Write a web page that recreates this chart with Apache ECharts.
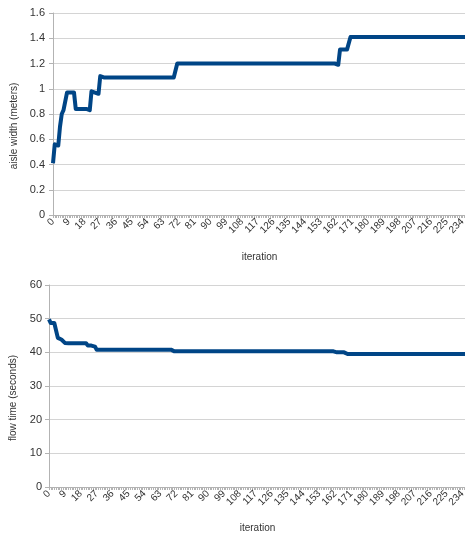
<!DOCTYPE html>
<html>
<head>
<meta charset="utf-8">
<script src="https://cdn.jsdelivr.net/npm/echarts@6/dist/echarts.min.js"></script>
<style>
  html, body { margin: 0; padding: 0; background: #fff; }
  #chart { width: 465px; height: 533px; }
</style>
</head>
<body>
<div id="chart"></div>
<script>
// Iteration index 0..236
const iterations = [];
for (let i = 0; i <= 236; i++) iterations.push(String(i));

// Aisle width per iteration (meters)
const aisleWidth = [
  0.41, 0.56, 0.55, 0.55, 0.70, 0.80, 0.83, 0.84, 0.97, 0.97,
  0.97, 0.96, 0.97, 0.84, 0.84, 0.84, 0.84, 0.84, 0.84, 0.84,
  0.84, 0.83, 0.98, 0.97, 0.97, 0.97, 0.96, 1.10, 1.09, 1.09,
  1.09, 1.09, 1.09, 1.09, 1.09, 1.09, 1.09, 1.09, 1.09, 1.09,
  1.09, 1.09, 1.09, 1.09, 1.09, 1.09, 1.09, 1.09, 1.09, 1.09,
  1.09, 1.09, 1.09, 1.09, 1.09, 1.09, 1.09, 1.09, 1.09, 1.09,
  1.09, 1.09, 1.09, 1.09, 1.09, 1.09, 1.09, 1.09, 1.09, 1.09,
  1.08, 1.20, 1.21, 1.20, 1.20, 1.20, 1.20, 1.20, 1.20, 1.20,
  1.20, 1.20, 1.20, 1.20, 1.20, 1.20, 1.20, 1.20, 1.20, 1.20,
  1.20, 1.20, 1.20, 1.20, 1.20, 1.20, 1.20, 1.20, 1.20, 1.20,
  1.20, 1.20, 1.20, 1.20, 1.20, 1.20, 1.20, 1.20, 1.20, 1.20,
  1.20, 1.20, 1.20, 1.20, 1.20, 1.20, 1.20, 1.20, 1.20, 1.20,
  1.20, 1.20, 1.20, 1.20, 1.20, 1.20, 1.20, 1.20, 1.20, 1.20,
  1.20, 1.20, 1.20, 1.20, 1.20, 1.20, 1.20, 1.20, 1.20, 1.20,
  1.20, 1.20, 1.20, 1.20, 1.20, 1.20, 1.20, 1.20, 1.20, 1.20,
  1.20, 1.20, 1.20, 1.20, 1.20, 1.20, 1.20, 1.20, 1.20, 1.20,
  1.20, 1.20, 1.20, 1.19, 1.31, 1.31, 1.31, 1.31, 1.31, 1.30,
  1.41, 1.41, 1.41, 1.41, 1.41, 1.41, 1.41, 1.41, 1.41, 1.41,
  1.41, 1.41, 1.41, 1.41, 1.41, 1.41, 1.41, 1.41, 1.41, 1.41,
  1.41, 1.41, 1.41, 1.41, 1.41, 1.41, 1.41, 1.41, 1.41, 1.41,
  1.41, 1.41, 1.41, 1.41, 1.41, 1.41, 1.41, 1.41, 1.41, 1.41,
  1.41, 1.41, 1.41, 1.41, 1.41, 1.41, 1.41, 1.41, 1.41, 1.41,
  1.41, 1.41, 1.41, 1.41, 1.41, 1.41, 1.41, 1.41, 1.41, 1.41,
  1.41, 1.41, 1.41, 1.41, 1.41, 1.41, 1.41
];

// Flow time per iteration (seconds)
const flowTime = [
  49.8, 48.7, 48.7, 48.7, 49.0, 44.3, 44.0, 43.8, 43.3, 42.8,
  42.7, 42.7, 42.7, 42.7, 42.7, 42.7, 42.7, 42.7, 42.7, 42.7,
  42.7, 42.7, 42.0, 42.0, 42.0, 41.8, 41.7, 40.8, 40.8, 40.8,
  40.8, 40.8, 40.8, 40.8, 40.8, 40.8, 40.8, 40.8, 40.8, 40.8,
  40.8, 40.8, 40.8, 40.8, 40.8, 40.8, 40.8, 40.8, 40.8, 40.8,
  40.8, 40.8, 40.8, 40.8, 40.8, 40.8, 40.8, 40.8, 40.8, 40.8,
  40.8, 40.8, 40.8, 40.8, 40.8, 40.8, 40.8, 40.8, 40.8, 40.8,
  40.3, 40.3, 40.3, 40.3, 40.3, 40.3, 40.3, 40.3, 40.3, 40.3,
  40.3, 40.3, 40.3, 40.3, 40.3, 40.3, 40.3, 40.3, 40.3, 40.3,
  40.3, 40.3, 40.3, 40.3, 40.3, 40.3, 40.3, 40.3, 40.3, 40.3,
  40.3, 40.3, 40.3, 40.3, 40.3, 40.3, 40.3, 40.3, 40.3, 40.3,
  40.3, 40.3, 40.3, 40.3, 40.3, 40.3, 40.3, 40.3, 40.3, 40.3,
  40.3, 40.3, 40.3, 40.3, 40.3, 40.3, 40.3, 40.3, 40.3, 40.3,
  40.3, 40.3, 40.3, 40.3, 40.3, 40.3, 40.3, 40.3, 40.3, 40.3,
  40.3, 40.3, 40.3, 40.3, 40.3, 40.3, 40.3, 40.3, 40.3, 40.3,
  40.3, 40.3, 40.3, 40.3, 40.3, 40.3, 40.3, 40.3, 40.3, 40.3,
  40.3, 40.3, 40.3, 40.0, 40.0, 40.0, 40.0, 40.0, 39.5, 39.5,
  39.5, 39.5, 39.5, 39.5, 39.5, 39.5, 39.5, 39.5, 39.5, 39.5,
  39.5, 39.5, 39.5, 39.5, 39.5, 39.5, 39.5, 39.5, 39.5, 39.5,
  39.5, 39.5, 39.5, 39.5, 39.5, 39.5, 39.5, 39.5, 39.5, 39.5,
  39.5, 39.5, 39.5, 39.5, 39.5, 39.5, 39.5, 39.5, 39.5, 39.5,
  39.5, 39.5, 39.5, 39.5, 39.5, 39.5, 39.5, 39.5, 39.5, 39.5,
  39.5, 39.5, 39.5, 39.5, 39.5, 39.5, 39.5, 39.5, 39.5, 39.5,
  39.5, 39.5, 39.5, 39.5, 39.5, 39.5, 39.5
];

const FONT = '"Liberation Sans", Arial, sans-serif';
const LINE_COLOR = '#004586';
const GRID_COLOR = '#d4d4d4';
const AXIS_COLOR = '#b3b3b3';
const TEXT_COLOR = '#333333';

function xAxisFor(gridIndex, nameGap) {
  return {
    type: 'category',
    gridIndex: gridIndex,
    data: iterations,
    boundaryGap: false,
    name: 'iteration',
    nameLocation: 'middle',
    nameGap: nameGap,
    nameTextStyle: { fontFamily: FONT, fontSize: 10, color: TEXT_COLOR },
    axisLine: { lineStyle: { color: AXIS_COLOR, width: 1 } },
    axisTick: { show: true, interval: 0, length: 3, lineStyle: { color: AXIS_COLOR } },
    axisLabel: {
      interval: 8, rotate: 45, fontFamily: FONT, fontSize: 10,
      color: TEXT_COLOR, margin: 5
    },
    splitLine: { show: false }
  };
}

// Vertical axis; the rotated title sits slightly below the plot's centre
function yAxisFor(gridIndex, max, interval, name, nameGap, labelMargin, fmt) {
  return {
    type: 'value',
    gridIndex: gridIndex,
    min: 0, max: max, interval: interval,
    name: name,
    nameLocation: 'middle',
    nameRotate: 90,
    nameGap: nameGap,
    nameTextStyle: { fontFamily: FONT, fontSize: 10, color: TEXT_COLOR, padding: [0, 24, 0, 0] },
    axisLine: { show: true, lineStyle: { color: AXIS_COLOR, width: 1 } },
    axisTick: { show: true, length: 4, lineStyle: { color: AXIS_COLOR } },
    axisLabel: { fontFamily: FONT, fontSize: 11, color: TEXT_COLOR, margin: labelMargin, formatter: fmt },
    splitLine: { show: true, lineStyle: { color: GRID_COLOR, width: 1 } }
  };
}

const chart = echarts.init(document.getElementById('chart'), null, { renderer: 'canvas' });
chart.setOption({
  backgroundColor: '#ffffff',
  animation: false,
  grid: [
    { left: 53, top: 13, width: 413, height: 202, outerBoundsMode: 'none', containLabel: false },
    { left: 49, top: 285, width: 417, height: 202, outerBoundsMode: 'none', containLabel: false }
  ],
  xAxis: [xAxisFor(0, 37), xAxisFor(1, 36)],
  yAxis: [
    yAxisFor(0, 1.6, 0.2, 'aisle width (meters)', 34, 8, v => String(Math.round(v * 10) / 10)),
    yAxisFor(1, 60, 10, 'flow time (seconds)', 31, 7, v => String(v))
  ],
  series: [
    {
      type: 'line', xAxisIndex: 0, yAxisIndex: 0, data: aisleWidth,
      showSymbol: false, lineStyle: { color: LINE_COLOR, width: 4, join: 'round' }
    },
    {
      type: 'line', xAxisIndex: 1, yAxisIndex: 1, data: flowTime,
      showSymbol: false, lineStyle: { color: LINE_COLOR, width: 4, join: 'round' }
    }
  ]
});
</script>
</body>
</html>
